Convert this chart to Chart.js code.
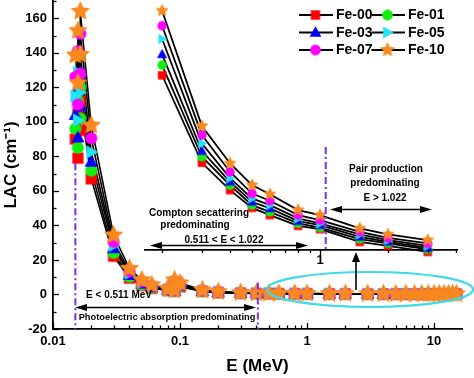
<!DOCTYPE html>
<html>
<head>
<meta charset="utf-8">
<script src="https://cdn.jsdelivr.net/npm/chart.js@4.4.1/dist/chart.umd.min.js"></script>
<style>
  html, body { margin: 0; padding: 0; background: #fff; }
  #wrap { position: relative; width: 474px; height: 378px; }
  #wrap canvas { position: absolute; left: 0; top: 0; }
</style>
</head>
<body>
<div id="wrap">
  <canvas id="mainChart" width="474" height="378"></canvas>
  <canvas id="insetChart" width="474" height="378"></canvas>
</div>
<script>
// --- datos (LAC en cm-1 frente a E en MeV) ---
const seriesNames = ['Fe-00', 'Fe-01', 'Fe-03', 'Fe-05', 'Fe-07', 'Fe-10'];

const energy = [0.015, 0.01571, 0.01571, 0.01639, 0.01639, 0.02, 0.03, 0.04, 0.05, 0.06,
  0.08, 0.0905, 0.0905, 0.1, 0.15, 0.2, 0.3, 0.4, 0.5, 0.6,
  0.8, 1, 1.5, 2, 3, 4, 5, 6, 7, 8, 9, 10, 11, 12, 13, 14, 15];

const fe00 = [90, 79, 104.5, 95, 112, 67, 22.2, 9.5, 5.3, 3.6,
  2.3, 1.9, 5.7, 4.5, 1.8, 1.1, 0.75, 0.6, 0.53, 0.49,
  0.44, 0.4, 0.35, 0.32, 0.29, 0.27, 0.26, 0.26, 0.26, 0.26, 0.26, 0.26, 0.26, 0.26, 0.27, 0.27, 0.27];
const fe01 = [96, 85, 112, 102, 120, 71.7, 24, 10.3, 5.8, 3.9,
  2.5, 2.0, 6.1, 4.8, 1.9, 1.2, 0.8, 0.64, 0.56, 0.52,
  0.46, 0.42, 0.37, 0.34, 0.3, 0.29, 0.28, 0.27, 0.27, 0.27, 0.27, 0.27, 0.27, 0.27, 0.28, 0.28, 0.28];
const fe03 = [104, 91, 120, 109, 129, 76.9, 26.8, 11.3, 6.3, 4.2,
  2.7, 2.1, 6.6, 5.2, 2.0, 1.3, 0.85, 0.68, 0.6, 0.55,
  0.49, 0.45, 0.39, 0.36, 0.32, 0.3, 0.29, 0.29, 0.29, 0.29, 0.29, 0.29, 0.29, 0.29, 0.29, 0.3, 0.3];
const fe05 = [115, 101, 128.7, 117, 139, 82.5, 28.5, 12.4, 6.9, 4.6,
  2.9, 2.3, 7.1, 5.6, 2.2, 1.4, 0.9, 0.72, 0.63, 0.59,
  0.52, 0.48, 0.42, 0.38, 0.34, 0.32, 0.31, 0.31, 0.31, 0.31, 0.31, 0.31, 0.31, 0.31, 0.31, 0.32, 0.32];
const fe07 = [126, 110, 141, 128, 151, 90.5, 30.5, 13.5, 7.6, 5.0,
  3.1, 2.5, 7.7, 6.1, 2.4, 1.5, 0.95, 0.76, 0.66, 0.62,
  0.55, 0.5, 0.44, 0.4, 0.36, 0.34, 0.33, 0.32, 0.32, 0.32, 0.32, 0.32, 0.32, 0.32, 0.33, 0.33, 0.33];
const fe10 = [138.6, 122.5, 152.8, 139, 164, 98, 34.4, 15, 8.4, 5.5,
  3.4, 2.7, 8.4, 6.6, 2.6, 1.6, 1.0, 0.8, 0.7, 0.65,
  0.58, 0.53, 0.46, 0.42, 0.38, 0.36, 0.35, 0.34, 0.34, 0.34, 0.34, 0.34, 0.34, 0.34, 0.35, 0.35, 0.35];

// recuadro ampliado (sin eje y visible, escala propia)
const insetEnergy = [0.2, 0.3, 0.4, 0.5, 0.6, 0.8, 1, 1.5, 2, 3];
const insetFe00 = [127, 76.3, 60.5, 50.2, 46, 39.8, 37.9, 30.5, 28.2, 24.7];
const insetFe01 = [132.9, 79.8, 63.3, 51.8, 47.9, 41.2, 38.8, 32.1, 29.6, 26.1];
const insetFe03 = [139.1, 83.1, 65.3, 53.7, 49.9, 42.5, 40.2, 33.4, 30.5, 27];
const insetFe05 = [148, 87.5, 67.4, 55.7, 51.8, 44.1, 41.2, 34.8, 31.5, 28.2];
const insetFe07 = [155.7, 92.4, 71, 58.5, 54.3, 46, 43.1, 36.3, 32.8, 29.6];
const insetFe10 = [164.4, 97.6, 75.9, 63.4, 58.1, 48.9, 46, 38.3, 34.8, 31.5];

const xTickLabels = [0.01, 0.1, 1, 10];
const yTickLabels = [-20, 0, 20, 40, 60, 80, 100, 120, 140, 160];
const insetTickLabels = [1];

const mainSeries = [fe00, fe01, fe03, fe05, fe07, fe10];
const insetSeries = [insetFe00, insetFe01, insetFe03, insetFe05, insetFe07, insetFe10];

// --- estilos ---
const FONT = '"Liberation Sans", Arial, Helvetica, sans-serif';
const colors = ['#ff0000', '#11ee11', '#0000ff', '#22e4f2', '#ff00ff', '#f7891f'];
const shapes = ['square', 'circle', 'triangle', 'triangleRight', 'circle', 'star'];
const sizeMain = { square: 5.6, circle: 6.1, triangle: 7, triangleRight: 7, star: 10.2 };
const sizeInset = { square: 4.2, circle: 4.7, triangle: 5.4, triangleRight: 5.4, star: 6.9 };
const sizeLegend = { square: 4.7, circle: 5.4, triangle: 6.2, triangleRight: 6.2, star: 8 };
const PURPLE = '#7a2fe6';

Chart.defaults.font.family = FONT;
Chart.defaults.color = '#000';

function makeMarker(shape, color, s) {
  const d = Math.ceil(s * 2 + 4);
  const c = document.createElement('canvas');
  c.width = d; c.height = d;
  const g = c.getContext('2d');
  const m = d / 2;
  g.fillStyle = color;
  g.beginPath();
  if (shape === 'square') g.rect(m - s, m - s, 2 * s, 2 * s);
  else if (shape === 'circle') g.arc(m, m, s, 0, Math.PI * 2);
  else if (shape === 'triangle') {
    g.moveTo(m, m - s); g.lineTo(m + s * 0.95, m + s * 0.7); g.lineTo(m - s * 0.95, m + s * 0.7);
  } else if (shape === 'triangleRight') {
    g.moveTo(m + s, m); g.lineTo(m - s * 0.7, m + s * 0.95); g.lineTo(m - s * 0.7, m - s * 0.95);
  } else if (shape === 'star') {
    for (let k = 0; k < 10; k++) {
      const r = k % 2 ? s * 0.48 : s;
      const a = -Math.PI / 2 + k * Math.PI / 5;
      g.lineTo(m + r * Math.cos(a), m + r * Math.sin(a));
    }
  }
  g.closePath();
  g.fill();
  return c;
}

const legendMarkers = shapes.map((sh, i) => makeMarker(sh, colors[i], sizeLegend[sh]));

function buildDatasets(xs, series, sizes, lineWidth) {
  const lines = series.map((ys, i) => ({
    label: seriesNames[i] + ' line',
    data: xs.map((x, j) => ({ x: x, y: ys[j] })),
    showLine: true, borderColor: '#000', borderWidth: lineWidth,
    pointRadius: 0, order: 10, clip: false
  }));
  const marks = series.map((ys, i) => ({
    label: seriesNames[i],
    data: xs.map((x, j) => ({ x: x, y: ys[j] })),
    showLine: false,
    pointStyle: makeMarker(shapes[i], colors[i], sizes[shapes[i]]),
    pointRadius: 5, pointHoverRadius: 5,
    order: 5 - i, clip: false
  }));
  return lines.concat(marks);
}

function isIn(v, list) {
  return list.some(t => Math.abs(v - t) < 1e-9 * Math.max(1, Math.abs(t)));
}

// quita el margen que Chart.js reserva para las etiquetas
function noPad(s) {
  s.paddingTop = 0; s.paddingBottom = 0; s.paddingLeft = 0; s.paddingRight = 0;
}

function seg(ctx, x1, y1, x2, y2) {
  ctx.beginPath(); ctx.moveTo(x1, y1); ctx.lineTo(x2, y2); ctx.stroke();
}

function head(ctx, x, y, dx, dy, len, hw) {
  ctx.beginPath();
  ctx.moveTo(x, y);
  ctx.lineTo(x - dx * len - dy * hw, y - dy * len + dx * hw);
  ctx.lineTo(x - dx * len + dy * hw, y - dy * len - dx * hw);
  ctx.closePath();
  ctx.fill();
}

function dblArrow(ctx, x1, x2, y) {
  ctx.lineWidth = 1.5;
  seg(ctx, x1 + 6, y, x2 - 6, y);
  head(ctx, x1, y, -1, 0, 12, 3.6);
  head(ctx, x2, y, 1, 0, 12, 3.6);
}

function text(ctx, str, x, y, size) {
  ctx.font = 'bold ' + size + 'px ' + FONT;
  ctx.fillText(str, x, y);
}

function dashV(ctx, x, y1, y2) {
  ctx.save();
  ctx.strokeStyle = PURPLE; ctx.lineWidth = 2;
  ctx.setLineDash([7, 3, 2, 3]);
  seg(ctx, x, y1, x, y2);
  ctx.restore();
}

// --- decoraciones del gráfico principal ---
const mainDecor = {
  id: 'mainDecor',
  afterDatasetsDraw(chart) {
    const { ctx, scales: { x, y }, chartArea: a } = chart;
    dashV(ctx, x.getPixelForValue(0.015), y.getPixelForValue(76), a.bottom);
    dashV(ctx, x.getPixelForValue(0.41), y.getPixelForValue(7), a.bottom);
  },
  afterDraw(chart) {
    const { ctx, scales: { x, y }, chartArea: a } = chart;
    ctx.save();
    ctx.strokeStyle = '#000'; ctx.fillStyle = '#000'; ctx.lineWidth = 1.3;
    // marcas hacia dentro
    for (let k = -2; k <= 1; k++) {
      for (let m = 1; m <= 9; m++) {
        const v = m * Math.pow(10, k);
        if (v < x.min || v > x.max) continue;
        const px = Math.round(x.getPixelForValue(v)) + 0.5;
        seg(ctx, px, a.bottom, px, a.bottom - (m === 1 ? 6 : 3.5));
      }
    }
    for (let v = -20; v <= 170; v += 10) {
      const py = Math.round(y.getPixelForValue(v)) + 0.5;
      seg(ctx, a.left, py, a.left + (v % 20 === 0 ? 6 : 3.5), py);
    }

    // anotaciones
    ctx.textAlign = 'center'; ctx.textBaseline = 'middle';
    text(ctx, 'Pair production', 386, 169, 10);
    text(ctx, 'predominating', 385, 183, 10);
    text(ctx, 'E > 1.022', 385, 198, 10);
    dblArrow(ctx, 330, 432, 209.5);

    text(ctx, 'Compton secattering', 199, 213, 10);
    text(ctx, 'predominating', 195, 225.5, 10);
    text(ctx, '0.511 < E < 1.022', 224, 240, 10);
    dblArrow(ctx, 150, 308, 245.5);

    text(ctx, 'E < 0.511 MeV', 119, 295, 10);
    dblArrow(ctx, 75, 256, 307.5);
    text(ctx, 'Photoelectric absorption predominating', 167, 317, 9.3);

    ctx.strokeStyle = '#3fd9e8'; ctx.lineWidth = 2.2;
    ctx.beginPath(); ctx.ellipse(370, 289.5, 103, 17.5, 0, 0, Math.PI * 2); ctx.stroke();
    ctx.strokeStyle = '#000'; ctx.lineWidth = 1.6;
    seg(ctx, 356, 290, 356, 260);
    head(ctx, 356, 252, 0, -1, 10, 4);

    // leyenda
    ctx.textAlign = 'left';
    ctx.font = 'bold 14px ' + FONT;
    const rows = [15, 32.5, 50];
    const cols = [{ l: 299, r: 333, m: 315.5, t: 336 }, { l: 371.5, r: 405, m: 387.5, t: 408 }];
    seriesNames.forEach((name, i) => {
      const c = cols[i % 2], yy = rows[Math.floor(i / 2)];
      ctx.lineWidth = 1.8; ctx.strokeStyle = '#000';
      seg(ctx, c.l, yy, c.r, yy);
      const img = legendMarkers[i];
      ctx.drawImage(img, c.m - img.width / 2, yy - img.height / 2);
      ctx.fillText(name, c.t, yy + 0.5);
    });
    ctx.restore();
  }
};

new Chart(document.getElementById('mainChart'), {
  type: 'scatter',
  data: { datasets: buildDatasets(energy, mainSeries, sizeMain, 1.6) },
  options: {
    responsive: false,
    animation: false,
    events: [],
    layout: { autoPadding: false, padding: { top: 1, right: 12, left: 0, bottom: 0 } },
    plugins: { legend: { display: false }, tooltip: { enabled: false } },
    scales: {
      x: {
        type: 'logarithmic', min: 0.01, max: 16.6,
        afterFit: s => { s.height = 49; noPad(s); },
        grid: { display: false, drawTicks: false },
        border: { display: true, color: '#000', width: 1.8 },
        ticks: {
          autoSkip: false, maxRotation: 0, minRotation: 0, padding: 5,
          font: { size: 13, weight: 'bold' },
          callback: v => isIn(v, xTickLabels) ? String(v) : null
        },
        title: { display: true, text: 'E (MeV)', font: { size: 17, weight: 'bold' }, padding: { top: 0, bottom: 1 } }
      },
      y: {
        type: 'linear', min: -20, max: 170,
        afterFit: s => { s.width = 53; noPad(s); },
        grid: { display: false, drawTicks: false },
        border: { display: true, color: '#000', width: 1.8 },
        ticks: {
          stepSize: 10, autoSkip: false, padding: 6,
          font: { size: 13, weight: 'bold' },
          callback: v => isIn(v, yTickLabels) ? String(v) : null
        },
        title: { display: true, text: 'LAC (cm\u207B\u00B9)', font: { size: 17, weight: 'bold' }, padding: { top: 1, bottom: 0 } }
      }
    }
  },
  plugins: [mainDecor]
});

// --- recuadro ---
const insetDecor = {
  id: 'insetDecor',
  afterDraw(chart) {
    const { ctx, scales: { x, y }, chartArea: a } = chart;
    ctx.save();
    ctx.strokeStyle = '#000'; ctx.lineWidth = 1.3;
    const marks = [0.2, 0.3, 0.4, 0.5, 0.6, 0.7, 0.8, 0.9, 1, 2, 3, 4];
    marks.forEach(v => {
      if (v < x.min || v > x.max) return;
      const px = Math.round(x.getPixelForValue(v)) + 0.5;
      seg(ctx, px, a.bottom, px, a.bottom + (v === 1 ? 5 : 3));
    });
    dashV(ctx, x.getPixelForValue(1.06), y.getPixelForValue(85.5), a.bottom);
    ctx.restore();
  }
};

new Chart(document.getElementById('insetChart'), {
  type: 'scatter',
  data: { datasets: buildDatasets(insetEnergy, insetSeries, sizeInset, 1.8) },
  options: {
    responsive: false,
    animation: false,
    events: [],
    layout: { autoPadding: false, padding: { top: 1, right: 17, left: 145, bottom: 108 } },
    plugins: { legend: { display: false }, tooltip: { enabled: false } },
    scales: {
      x: {
        type: 'logarithmic', min: 0.168, max: 4.04,
        afterFit: s => { s.height = 20; noPad(s); },
        grid: { display: false, drawTicks: false },
        border: { display: true, color: '#000', width: 1.8 },
        ticks: {
          autoSkip: false, maxRotation: 0, minRotation: 0, padding: 3,
          font: { size: 13, weight: 'bold' },
          callback: v => isIn(v, insetTickLabels) ? String(v) : null
        }
      },
      y: { display: false, min: 25.8, max: 170, afterFit: s => { s.width = 0; noPad(s); } }
    }
  },
  plugins: [insetDecor]
});
</script>
</body>
</html>
